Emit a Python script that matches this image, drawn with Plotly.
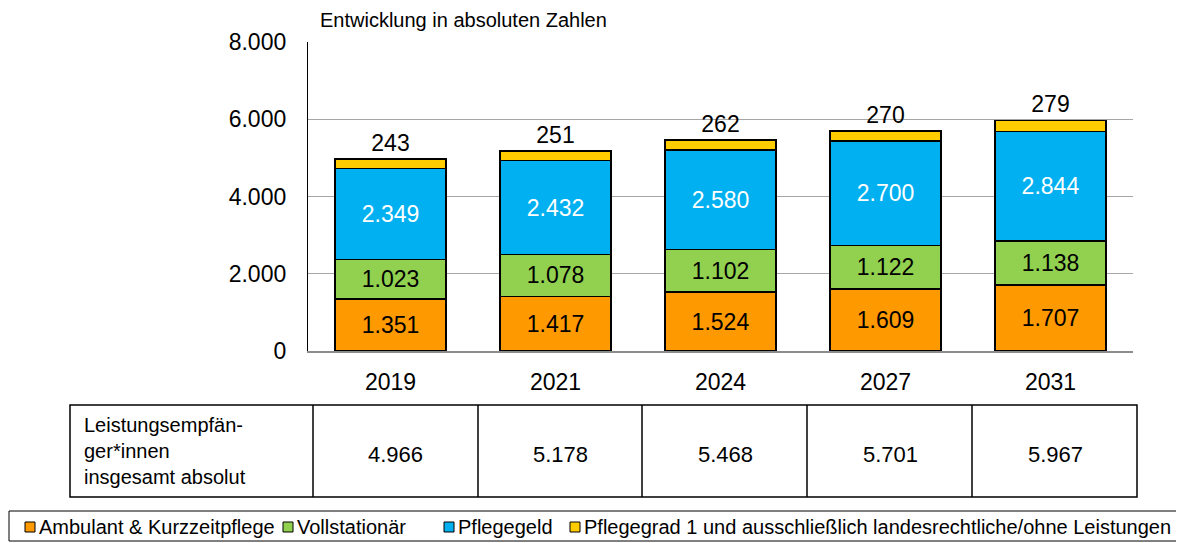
import plotly.graph_objects as go

years = ["2019", "2021", "2024", "2027", "2031"]
ambulant = [1351, 1417, 1524, 1609, 1707]
vollstationaer = [1023, 1078, 1102, 1122, 1138]
pflegegeld = [2349, 2432, 2580, 2700, 2844]
pflegegrad1 = [243, 251, 262, 270, 279]
totals = [4966, 5178, 5468, 5701, 5967]

series_names = ["Ambulant & Kurzzeitpflege", "Vollstationär", "Pflegegeld",
                "Pflegegrad 1 und ausschließlich landesrechtliche/ohne Leistungen"]
series_colors = ["#FF9900", "#92D050", "#00B0F0", "#FFCC00"]
label_colors = ["black", "black", "white", "black"]
y_ticks = [0, 2000, 4000, 6000, 8000]
table_label = "Leistungsempfän-<br>ger*innen<br>insgesamt absolut"
chart_title = "Entwicklung in absoluten Zahlen"

OFF = 8  # page body margin of the html page
W, H = 1184 - OFF, 543 - OFF
# plot area in reference pixels: x 308..1133, y 42..351
PX0, PX1, PY0, PY1 = 308, 1133, 42, 351
L, R, T, B = PX0 - OFF, W - (PX1 - OFF), PY0 - OFF, H - (PY1 - OFF)
FONT = "Liberation Sans, Arial, sans-serif"

def px_x(px):
    return (px - PX0) / (PX1 - PX0)

def px_y(py):
    return (PY1 - py) / (PY1 - PY0)

fig = go.Figure()
all_series = [ambulant, vollstationaer, pflegegeld, pflegegrad1]
for i, (name, vals) in enumerate(zip(series_names, all_series)):
    top = i == 3
    fig.add_trace(go.Bar(
        x=years, y=vals, name=name,
        marker=dict(color=series_colors[i], line=dict(color="black", width=1.5)),
        texttemplate="%{y:,.0f}",
        textposition="outside" if top else "inside",
        insidetextanchor="middle",
        textangle=0,
        constraintext="none",
        cliponaxis=False,
        textfont=dict(color=label_colors[i], size=23, family=FONT),
        width=0.67,
        showlegend=False,
    ))

shapes = []
# table borders
tbl_top, tbl_bot = px_y(405), px_y(497)
col_edges = [70, 313, 478, 642, 807, 972, 1137]
shapes.append(dict(type="rect", xref="paper", yref="paper",
                   x0=px_x(col_edges[0]), x1=px_x(col_edges[-1]), y0=tbl_bot, y1=tbl_top,
                   line=dict(color="black", width=1.5)))
for e in col_edges[1:-1]:
    shapes.append(dict(type="line", xref="paper", yref="paper",
                       x0=px_x(e), x1=px_x(e), y0=tbl_bot, y1=tbl_top,
                       line=dict(color="black", width=1.5)))

annotations = []
annotations.append(dict(xref="paper", yref="paper", x=px_x(82), y=(tbl_top + tbl_bot) / 2,
                        xanchor="left", yanchor="middle", align="left", showarrow=False,
                        text=table_label, font=dict(size=20, family=FONT, color="black")))
n = len(years)
for i, tot in enumerate(totals):
    annotations.append(dict(xref="paper", yref="paper", x=(i + 0.5) / n, y=(tbl_top + tbl_bot) / 2,
                            xshift=5, yshift=-3, xanchor="center", yanchor="middle", showarrow=False,
                            text=f"{tot:,}".replace(",", "."),
                            font=dict(size=22, family=FONT, color="black")))

annotations.append(dict(xref="paper", yref="paper", x=px_x(318), y=px_y(20),
                        xanchor="left", yanchor="middle", showarrow=False,
                        text=chart_title, font=dict(size=20, family=FONT, color="black")))

# legend box
shapes.append(dict(type="rect", xref="paper", yref="paper",
                   x0=px_x(9), x1=px_x(1182), y0=px_y(541), y1=px_y(511),
                   line=dict(color="black", width=1)))
leg_x = [25, 283, 444, 570]
for i, name in enumerate(series_names):
    x0 = leg_x[i]
    shapes.append(dict(type="rect", xref="paper", yref="paper",
                       x0=px_x(x0), x1=px_x(x0 + 10), y0=px_y(532), y1=px_y(522),
                       fillcolor=series_colors[i], line=dict(color="black", width=1)))
    annotations.append(dict(xref="paper", yref="paper", x=px_x(x0 + 12), y=px_y(527),
                            xanchor="left", yanchor="middle", showarrow=False,
                            text=name, font=dict(size=20, family=FONT, color="black")))

fig.update_layout(
    width=W, height=H,
    margin=dict(l=L, r=R, t=T, b=B, pad=0),
    barmode="stack",
    separators=",.",
    plot_bgcolor="white", paper_bgcolor="white",
    font=dict(family=FONT, color="black"),
    shapes=shapes, annotations=annotations,
    xaxis=dict(type="category", showline=True, linecolor="#8C8C8C", linewidth=1.5, ticks="",
               tickfont=dict(size=23, family=FONT, color="black"), ticklabelstandoff=10),
    yaxis=dict(range=[0, 8000], tickvals=y_ticks, tickformat=",.0f",
               showgrid=True, gridcolor="#A6A6A6", gridwidth=1.3,
               showline=True, linecolor="black", linewidth=1.3, ticks="",
               zeroline=False,
               tickfont=dict(size=23, family=FONT, color="black"), ticklabelstandoff=16),
)

fig.write_html("out.html")
